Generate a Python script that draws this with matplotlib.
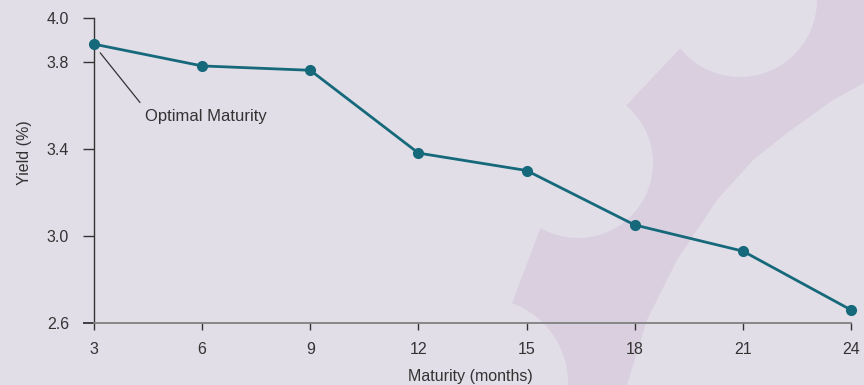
import numpy as np
import matplotlib
matplotlib.use("Agg")
import matplotlib.pyplot as plt
from matplotlib.patches import Polygon

# data
maturity = [3, 6, 9, 12, 15, 18, 21, 24]
yields = [3.88, 3.78, 3.76, 3.38, 3.30, 3.05, 2.93, 2.66]
yticks = [2.6, 3.0, 3.4, 3.8, 4.0]

W, H = 864, 385
bg = "#e2dee8"
shape_col = "#d9cfdf"
teal = "#15697a"
dark = "#333333"
grey = "#808080"

plt.rcParams["font.family"] = ["Liberation Sans", "DejaVu Sans"]

fig = plt.figure(figsize=(W / 100, H / 100), dpi=100, facecolor=bg)


def arc(cx, cy, r, a0, a1, n=40):
    t = np.radians(np.linspace(a0, a1, n))
    return list(zip(cx + r * np.cos(t), cy + r * np.sin(t)))


# decorative background band (pixel coords, y down)
pts = []
pts += arc(740, 0, 77, 0, 141)
pts += arc(578, 163, 75, -50, 120)
pts += arc(483, 383, 85, -70, 1.4)
pts += [(627, 385), (647, 320), (677, 260), (717, 200), (753, 160),
        (787, 133), (833, 100), (864, 83), (864, 0)]
pts = [(x / W, 1 - y / H) for x, y in pts]
fig.patches.append(Polygon(pts, closed=True, transform=fig.transFigure,
                           facecolor=shape_col, edgecolor="none", zorder=-5))

ax = fig.add_axes([94 / W, 1 - 323 / H, 757 / W, 305 / H])
ax.set_zorder(2)
ax.set_facecolor("none")

ax.plot(maturity, yields, color=teal, lw=2, marker="o", ms=7,
        clip_on=False, zorder=3)

ax.set_xlim(3, 24)
ax.set_ylim(2.6, 4.0)
ax.set_xticks(maturity)
ax.set_yticks(yticks)
ax.set_yticklabels([f"{v:.1f}" for v in yticks])

for s in ["top", "right"]:
    ax.spines[s].set_visible(False)
ax.spines["left"].set_color(dark)
ax.spines["left"].set_linewidth(1.0)
ax.spines["bottom"].set_color(grey)
ax.spines["bottom"].set_linewidth(1.3)

ax.tick_params(axis="y", length=8, width=1.0, color=dark, pad=10,
               labelsize=11.5, labelcolor=dark)
ax.tick_params(axis="x", length=5, width=1.0, color=dark, pad=8.5,
               labelsize=11.5, labelcolor=dark)
ax.yaxis.get_major_ticks()[0].tick1line.set_color(grey)
ax.yaxis.get_major_ticks()[0].tick1line.set_markeredgewidth(1.3)

ax.set_xlabel("Maturity (months)", fontsize=11.5, color=dark)
ax.set_ylabel("Yield (%)", fontsize=11.5, color=dark)
ax.xaxis.set_label_coords(0.497, -0.152)
ax.yaxis.set_label_coords(-0.082, 0.56)

ax.annotate("Optimal Maturity", xy=(3.1, 3.855), xytext=(4.41, 3.55),
            ha="left", va="center", fontsize=12, color=dark,
            arrowprops=dict(arrowstyle="-", color=dark, lw=0.9,
                            relpos=(0, 1), shrinkA=3, shrinkB=3))

fig.savefig("out.png", dpi=100, facecolor=bg)
